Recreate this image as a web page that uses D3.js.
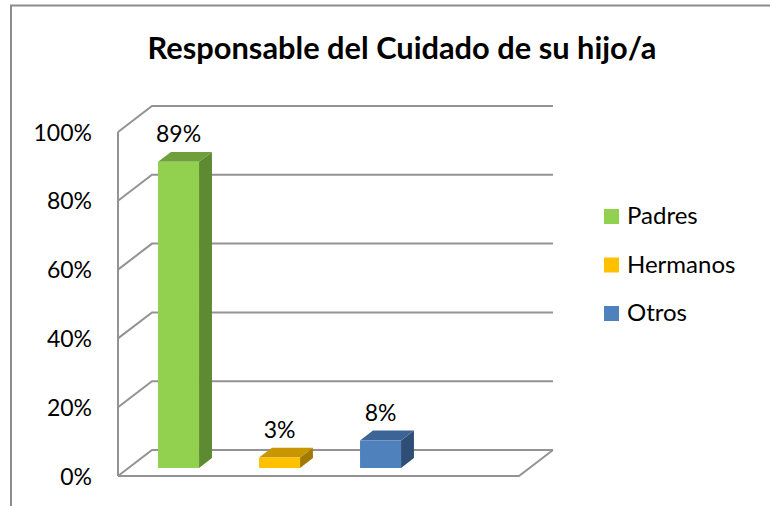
<!DOCTYPE html>
<html>
<head>
<meta charset="utf-8">
<script src="https://cdn.jsdelivr.net/npm/d3@7/dist/d3.min.js"></script>
<style>
  html, body { margin: 0; padding: 0; background: #ffffff; }
  svg { display: block; }
  text { font-family: Lato, "Open Sans", "DejaVu Sans", sans-serif; fill: #000; }
</style>
</head>
<body>
<svg id="chart" width="770" height="506"></svg>
<script>
// ---- data ----
const title = "Responsable del Cuidado de su hijo/a";
const series = ["Padres", "Hermanos", "Otros"];
const values = [0.89, 0.03, 0.08];
const valueLabels = ["89%", "3%", "8%"];
const tickValues = [0, 0.2, 0.4, 0.6, 0.8, 1.0];
const tickLabels = ["0%", "20%", "40%", "60%", "80%", "100%"];
const frontColors = ["#92D050", "#FFC000", "#4F81BD"];
const topColors = ["#6F9E3C", "#C89600", "#3D6496"];
const sideColors = ["#5E8A32", "#A37A00", "#2F4E75"];

// ---- layout ----
const svg = d3.select("#chart");
const W = 770, H = 506;
const frontLeft = 118, frontRight = 519;
const depthX = 34, depthY = 26;
const barD0 = 0.31, barD1 = 0.69;
const gridColor = "#939393";

const y = d3.scaleLinear().domain([0, 1]).range([476, 132]);
const x = d3.scaleBand().domain(series).range([147.5, 390.5]).paddingInner(60 / 101).paddingOuter(0);
const proj = (px, py, d) => [px + depthX * d, py - depthY * d];

// outer border
svg.append("path")
  .attr("d", `M11,${H} L11,5.5 L${W},5.5`)
  .attr("fill", "none").attr("stroke", "#8c8c8c").attr("stroke-width", 2);

// title
svg.append("text")
  .attr("x", 402).attr("y", 59)
  .attr("text-anchor", "middle")
  .style("font-weight", "bold").style("font-size", "30.8px")
  .text(title);

const line = d3.line();
const grid = svg.append("g").attr("fill", "none").attr("stroke", gridColor).attr("stroke-width", 2);

// left wall vertical edge
grid.append("path").attr("d", line([[frontLeft, y(0)], [frontLeft, y(1)]]));

// gridlines: left wall diagonal + back wall horizontal
tickValues.forEach(t => {
  grid.append("path").attr("d", line([
    proj(frontLeft, y(t), 0),
    proj(frontLeft, y(t), 1),
    proj(frontRight, y(t), 1)
  ]));
});
// floor front edge and right edge
grid.append("path").attr("d", line([
  proj(frontLeft, y(0), 0),
  proj(frontRight, y(0), 0),
  proj(frontRight, y(0), 1)
]));

// y-axis labels
svg.append("g").selectAll("text")
  .data(tickValues)
  .join("text")
  .attr("x", 92)
  .attr("y", (d) => y(d) + 8.5)
  .attr("text-anchor", "end")
  .style("font-size", "23px")
  .text((d, i) => tickLabels[i]);

// bars
const bars = svg.append("g");
series.forEach((s, i) => {
  const bx0 = x(s), bx1 = x(s) + x.bandwidth();
  const v = values[i];
  const fTL = proj(bx0, y(v), barD0), fTR = proj(bx1, y(v), barD0);
  const fBL = proj(bx0, y(0), barD0), fBR = proj(bx1, y(0), barD0);
  const bTL = proj(bx0, y(v), barD1), bTR = proj(bx1, y(v), barD1);
  const bBR = proj(bx1, y(0), barD1);
  bars.append("path").attr("d", line([fTR, bTR, bBR, fBR]) + "Z").attr("fill", sideColors[i]);
  bars.append("path").attr("d", line([fTL, bTL, bTR, fTR]) + "Z").attr("fill", topColors[i]);
  bars.append("path").attr("d", line([fTL, fTR, fBR, fBL]) + "Z").attr("fill", frontColors[i]);
  bars.append("text")
    .attr("x", (fTL[0] + fTR[0]) / 2)
    .attr("y", bTL[1] - 10)
    .attr("text-anchor", "middle")
    .style("font-size", "23px")
    .text(valueLabels[i]);
});

// legend
const legend = svg.append("g");
series.forEach((s, i) => {
  const ly = 224 + i * 48.5;
  legend.append("rect")
    .attr("x", 604).attr("y", ly - 15)
    .attr("width", 15).attr("height", 15)
    .attr("fill", frontColors[i]);
  legend.append("text")
    .attr("x", 627).attr("y", ly)
    .style("font-size", "24px")
    .text(s);
});
</script>
</body>
</html>
